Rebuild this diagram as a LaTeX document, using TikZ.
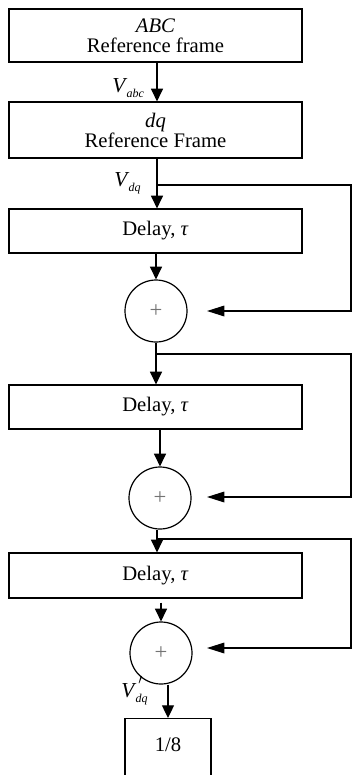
\documentclass[tikz,border=0pt]{standalone}
\usepackage{fontspec}
\setmainfont{Liberation Serif}
\usetikzlibrary{arrows.meta}
\newcommand{\Vsub}[1]{\textit{V}\kern-0.5pt\raisebox{-0.6ex}{\fontsize{9}{9}\selectfont\textit{#1}}}
\newcommand{\Vpsub}[1]{\textit{V}\rlap{\kern1.5pt\raisebox{0.45ex}{$'$}}\kern-0.5pt\raisebox{-0.6ex}{\fontsize{9}{9}\selectfont\textit{#1}}}
\begin{document}
\begin{tikzpicture}[x=0.75pt,y=-0.75pt,
  box/.style={draw, line width=0.9pt, minimum width=219.75pt, inner sep=0pt, align=center, font=\fontsize{15.5}{15}\selectfont},
  sum/.style={draw, circle, line width=0.9pt, minimum size=46.5pt, inner sep=0pt, font=\fontsize{17}{17}\selectfont},
  conn/.style={line width=0.9pt},
  arr/.style={conn, -{Triangle[width=9pt,length=9.5pt]}},
  larr/.style={conn, -{Triangle[width=8pt,length=13pt]}},
  lab/.style={font=\fontsize{16}{16}\selectfont, inner sep=0pt}]
\useasboundingbox (0,0) rectangle (357,775);
% blocks
\node[box, minimum height=39.75pt] (abc) at (155.5,35.5) {\textit{ABC}\\Reference frame};
\node[box, minimum height=42pt] (dq) at (155.5,130) {\textit{dq}\\Reference Frame};
\node[box, minimum height=33pt] (d1) at (155.5,231) {Delay, \textit{τ}};
\node[sum] (s1) at (156,311) {\textcolor{black!55}{+}};
\node[box, minimum height=33pt] (d2) at (155.5,407) {Delay, \textit{τ}};
\node[sum] (s2) at (160,498) {\textcolor{black!55}{+}};
\node[box, minimum height=33.75pt] (d3) at (155.5,575.5) {Delay, \textit{τ}};
\node[sum] (s3) at (161,653) {\textcolor{black!55}{+}};
\node[draw, line width=0.9pt, minimum width=64.5pt, minimum height=46pt, inner sep=0pt, anchor=north] (eight) at (168,718) {};
\node[font=\fontsize{15.5}{15}\selectfont, inner sep=0pt] (t8) at (168,745) {1/8};
% labels
\node[lab, anchor=base west] (la) at (112,92) {\Vsub{abc}};
\node[lab, anchor=base west] (lb) at (114,186) {\Vsub{dq}};
\node[lab, anchor=base west] (lc) at (121,697) {\Vpsub{dq}};
% coordinates
\coordinate (b1) at (157,185);
\coordinate (e1) at (351,185);
\coordinate (t1) at (207,311);
\coordinate (b2) at (156,354);
\coordinate (e2) at (351,354);
\coordinate (t2) at (207,497);
\coordinate (b3) at (157,539);
\coordinate (e3) at (351,539);
\coordinate (t3) at (207,648);
% main path
\draw[arr] (abc.south -| b1) -- (dq.north -| b1);
\draw[arr] (dq.south -| b1) -- (d1.north -| b1);
\draw[arr] (s1.north |- d1.south) -- (s1.north);
\draw[arr] (s1.south) -- (s1.south |- d2.north);
\draw[arr] (s2.north |- d2.south) -- (s2.north);
\draw[arr] (s2.south -| b3) -- (d3.north -| b3);
\draw[arr] ([yshift=-3pt]s3.north |- d3.south) -- (s3.north);
\draw[arr] (s3.south -| eight.north) -- (eight.north);
% feed-forward branches
\draw[larr] (b1) -- (e1) |- (t1);
\draw[larr] (b2) -- (e2) |- (t2);
\draw[larr] (b3) -- (e3) |- (t3);
\end{tikzpicture}
\end{document}
